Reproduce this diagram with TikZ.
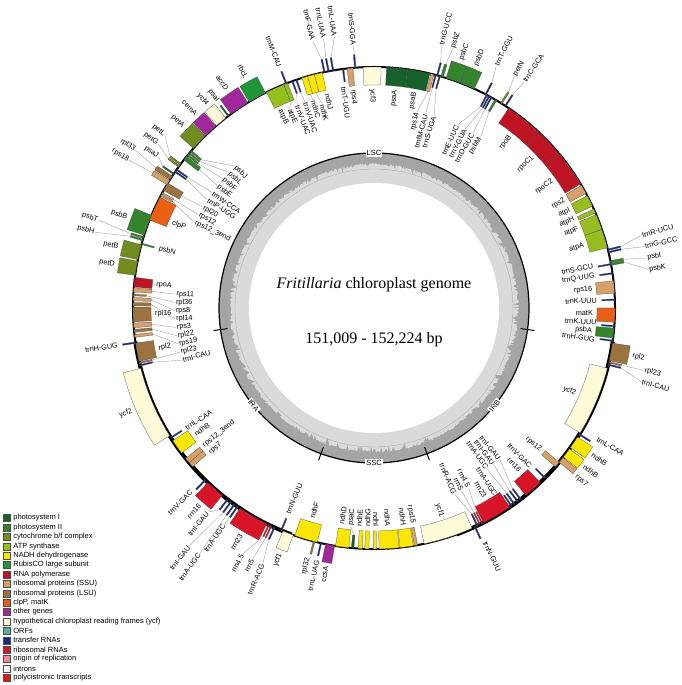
\documentclass[tikz,border=0pt]{standalone}
\usepackage{fontspec}
\setmainfont{Liberation Serif}
\setsansfont{Liberation Sans}
\usetikzlibrary{positioning}
\definecolor{psI}{RGB}{22,96,44}
\definecolor{psII}{RGB}{52,132,44}
\definecolor{cytbf}{RGB}{112,140,30}
\definecolor{atp}{RGB}{150,190,30}
\definecolor{ndh}{RGB}{250,230,0}
\definecolor{rubisco}{RGB}{30,150,55}
\definecolor{rnap}{RGB}{190,20,35}
\definecolor{ssu}{RGB}{215,160,105}
\definecolor{lsu}{RGB}{155,115,65}
\definecolor{clp}{RGB}{235,95,20}
\definecolor{other}{RGB}{160,40,155}
\definecolor{ycf}{RGB}{255,250,215}
\definecolor{orf}{RGB}{85,175,155}
\definecolor{trna}{RGB}{25,40,125}
\definecolor{rrna}{RGB}{215,20,40}
\definecolor{ori}{RGB}{240,140,140}
\definecolor{poly}{RGB}{230,20,20}
\definecolor{gcdark}{RGB}{165,165,165}
\definecolor{gclight}{RGB}{218,218,218}
\tikzset{glab/.style={font=\sffamily\fontsize{7.3}{8}\selectfont, inner sep=0.8pt}}
\tikzset{leader/.style={draw=black!45, line width=0.3pt}}
\tikzset{gene/.style={draw=black!70, line width=0.25pt}}
\tikzset{region/.style={font=\sffamily\fontsize{7.5}{8}\selectfont, fill=white, inner sep=1pt}}
\tikzset{swatch/.style={draw=black!70, line width=0.3pt, minimum size=7pt, inner sep=0pt}}
\tikzset{legtext/.style={font=\sffamily\fontsize{7.5}{8}\selectfont, inner sep=0pt}}

% start/end angle / side (1 outside, -1 inside) / colour / label / label angle / label offset
\def\genelist{88.3/92.6/-1/ycf/ycf3/90.4/21,
82/87/-1/psI/psaA/84.5/21,
76.6/82/-1/psI/psaB/79.3/21,
75.6/76.4/-1/ssu/rps14/77.6/40,
75/75.35/-1/trna/trnfM-CAU/75.1/40,
74/74.35/-1/trna/trnS-UGA/72.6/40,
74.6/74.95/1/trna/trnG-UCC/75.6/30,
73.3/73.9/1/psII/psbZ/73.1/30,
69/72.6/1/psII/psbC/70.6/21,
65.4/69/1/psII/psbD/67.2/21,
62.2/62.55/1/trna/trnT-GGU/63.2/30,
61.9/62.25/-1/trna/trnE-UUC/65.5/40,
61.3/61.65/-1/trna/trnY-GUA/63/40,
60.7/61.05/-1/trna/trnD-GUC/60.5/40,
59.4/59.9/-1/psII/psbM/58/40,
57.9/58.3/1/cytbf/petN/58.8/30,
56.8/57.15/1/trna/trnC-GCA/56.4/30,
47/56/-1/rnap/rpoB/51.5/21,
40/47/-1/rnap/rpoC1/43.5/21,
31/40/-1/rnap/rpoC2/35.5/21,
28.4/30.6/-1/ssu/rps2/29.5/21,
25/27.8/-1/atp/atpI/26.6/21,
23.2/24.2/-1/atp/atpH/24/21,
19/22.8/-1/atp/atpF/21.2/21,
14.5/19/-1/atp/atpA/16.6/21,
13.8/14.15/1/trna/trnR-UCU/15.2/36,
13.2/13.55/1/trna/trnG-GCC/12.8/36,
10.8/11.3/1/psII/psbI/10.4/36,
10.2/10.7/1/psII/psbK/8/36,
10.3/10.65/-1/trna/trnS-GCU/10.8/17,
8.1/8.45/-1/trna/trnQ-UUG/8.2/17,
3.5/6.5/-1/ssu/rps16/5/21,
1.8/2.15/-1/trna/trnK-UUU/1.9/17,
-3.4/0/-1/clp/matK/-1.4/21,
-4.5/-4.15/-1/trna/trnK-UUU/-3.8/17,
-7.2/-4.8/-1/psII/psbA/-6/21,
-8/-7.65/-1/trna/trnH-GUG/-8.2/17,
-12.6/-8.4/1/lsu/rpl2/-10.5/21,
-13.2/-12.85/1/lsu/rpl23/-13/36,
-13.8/-13.45/1/trna/trnI-CAU/-15.4/36,
-31.2/-14.5/-1/ycf/ycf2/-23/21,
-31.8/-31.45/1/trna/trnL-CAA/-30.4/17,
-35.4/-32.4/1/ndh/ndhB/-33.9/21,
-38.2/-35.8/1/ndh/ndhB/-37/21,
-39.8/-38.4/1/ssu/rps7/-39.8/21,
-41.2/-39.8/-1/ssu/rps12/-40.5/21,
-45/-44.65/-1/trna/trnV-GAC/-45.4/17,
-51/-46.4/-1/rrna/rrn16/-48.2/21,
-52.7/-52.35/-1/trna/trnI-GAU/-50.3/44,
-53.6/-53.25/-1/trna/trnI-GAU/-52.6/44,
-54.6/-54.25/-1/trna/trnA-UGC/-54.9/44,
-55.4/-55.05/-1/trna/trnA-UGC/-57/17,
-63/-55.7/-1/rrna/rrn23/-59.6/21,
-63.5/-63.2/-1/rrna/rrn4.5/-62.2/38,
-64.1/-63.8/-1/rrna/rrn5/-64.4/38,
-64.8/-64.45/-1/trna/trnR-ACG/-66.6/38,
-65.4/-65.05/1/trna/trnN-GUU/-64.6/17,
-78/-66/-1/ycf/ycf1/-72/21,
-80.4/-79.6/-1/ssu/rps15/-79.8/21,
-83.8/-80.6/-1/ndh/ndhH/-82.2/21,
-88.8/-84/-1/ndh/ndhA/-86.4/21,
-90.2/-89.4/-1/ndh/ndhI/-89.5/21,
-92.2/-91.2/-1/ndh/ndhG/-91.7/21,
-93.8/-92.8/-1/ndh/ndhE/-93.9/21,
-95.4/-94.8/-1/psI/psaC/-96.1/21,
-99.2/-96/-1/ndh/ndhD/-98.5/21,
-101.6/-99.4/1/other/ccsA/-100.5/21,
-102.9/-102.55/1/trna/trnL-UAG/-102.7/17,
-104.6/-104.2/1/lsu/rpl32/-104.8/17,
-109.2/-103.6/-1/ndh/ndhF/-106.4/21,
-112.2/-109.6/1/ycf/ycf1/-110.9/21,
247.2/247.55/-1/trna/trnN-GUU/247.3/17,
245.4/245.75/1/trna/trnR-ACG/246.5/38,
244.6/244.9/1/rrna/rrn5/244.2/38,
244/244.3/1/rrna/rrn4.5/241.9/38,
236.2/243.6/1/rrna/rrn23/239.6/21,
235.3/235.65/1/trna/trnA-UGC/235.3/22,
234.4/234.75/1/trna/trnA-UGC/234.6/60,
233.4/233.75/1/trna/trnI-GAU/232.2/60,
232.4/232.75/1/trna/trnI-GAU/230.9/22,
226.4/231/1/rrna/rrn16/228.5/21,
225.4/225.75/1/trna/trnV-GAC/225.1/17,
219.9/221.2/-1/ssu/rps7/221.5/21,
218.6/219.9/-1/ssu/rps12\_3end/219/21,
213.4/217/-1/ndh/ndhB/215.2/21,
212.4/212.75/-1/trna/trnL-CAA/212.6/17,
194.5/212/1/ycf/ycf2/203/21,
193.6/193.95/-1/trna/trnI-CAU/195.2/42,
193/193.35/-1/lsu/rpl23/192.8/42,
188.4/192.8/-1/lsu/rpl2/190.6/21,
188.1/188.45/1/trna/trnH-GUG/188.3/17,
186.3/187/-1/ssu/rps19/190.4/42,
185.1/185.8/-1/lsu/rpl22/188/42,
183.6/184.7/-1/ssu/rps3/185.6/42,
179.8/183.3/-1/lsu/rpl16/181.6/21,
178.7/179.5/-1/lsu/rpl14/183.2/42,
177.5/178.3/-1/ssu/rps8/180.8/42,
176.7/177.1/-1/lsu/rpl36/178.4/42,
175.2/176.2/-1/ssu/rps11/176/42,
172.7/175/-1/rnap/rpoA/173.8/21,
168.8/172.2/1/cytbf/petD/170.5/21,
164.8/168.4/1/cytbf/petB/166.6/21,
164.4/164.75/-1/psII/psbN/164.6/17,
163.4/163.8/1/psII/psbH/164.8/48,
162.8/163.2/1/psII/psbT/162.3/48,
157.4/162.4/1/psII/psbB/159.9/21,
152.6/158.6/-1/clp/clpP/157/21,
152/152.35/-1/ssu/rps12\_3end/154.5/42,
151.4/151.8/-1/ssu/rps12/152/42,
148.8/150.8/-1/lsu/rpl20/149.5/42,
148/149.2/1/ssu/rps18/148.9/45,
146.8/147.8/1/lsu/rpl33/146.5/45,
146/146.35/1/psI/psaJ/145/22,
145.4/145.75/-1/trna/trnP-UGG/147/42,
144.8/145.15/-1/trna/trnW-CCA/144.5/42,
143.8/144.2/1/cytbf/petG/142.8/30,
143.2/143.6/1/cytbf/petL/140.5/30,
141/142.1/-1/psII/psbE/142/42,
140.4/140.8/-1/psII/psbF/139.5/42,
139.8/140.2/-1/psII/psbL/137/42,
139.2/139.6/-1/psII/psbJ/134.5/42,
134.5/138.5/1/cytbf/petA/136.5/21,
131/134.3/1/other/cemA/132.6/21,
128/130.8/1/ycf/ycf4/129.4/21,
127/127.35/1/psI/psaI/127.1/17,
121.6/126.4/1/other/accD/124/21,
116.8/121.2/1/rubisco/rbcL/119/21,
112/116.5/-1/atp/atpB/115.4/21,
111/112/-1/atp/atpE/113.1/24,
111.2/111.55/1/trna/trnM-CAU/111.4/17,
109.6/109.95/-1/trna/trnV-UAC/110.8/24,
108.6/108.95/-1/trna/trnV-UAC/108.5/24,
106/107.4/-1/ndh/ndhC/106.3/24,
104.3/106/-1/ndh/ndhK/104.3/30,
102.4/104.3/-1/ndh/ndhJ/102.3/21,
101.7/102.05/1/trna/trnF-GAA/102.9/33,
100.7/101.05/1/trna/trnL-UAA/100.6/33,
99.6/99.95/1/trna/trnL-UAA/98.3/33,
97.2/97.55/-1/trna/trnT-UGU/97.9/17,
95/96.4/-1/ssu/rps4/95.5/21,
94.3/94.65/1/trna/trnS-GGA/94.5/22}

\begin{document}
\begin{tikzpicture}[x=1pt, y=1pt]
\useasboundingbox (0,0) rectangle (682,685);

\begin{scope}[shift={(374,377)}]
\coordinate (c) at (0,0);
% GC content
\fill[gcdark] (c) circle[radius=155pt];
\fill[gclight] plot[domain=0:360, samples=720, variable=\g] (\g:{143+2*rnd-7*rnd^5}) -- cycle;
\draw[black!35, line width=0.3pt] (c) circle[radius=139pt];
\fill[white] (c) circle[radius=125pt];
\draw[line width=1.2pt] (c) circle[radius=155pt];
\foreach \t in {188,250,290,352}
  \draw[line width=1pt] (\t:148pt) -- (\t:162pt);
\node[region] (lsc) at (90:155pt) {LSC};
\node[region, rotate=-51] (ira) at (219:155pt) {IRA};
\node[region] (ssc) at (270:155pt) {SSC};
\node[region, rotate=51] (irb) at (321:155pt) {IRB};

\node[font=\fontsize{16}{18}\selectfont] (title) at (0,23) {\textit{Fritillaria} chloroplast genome};
\node[font=\fontsize{16}{18}\selectfont] (size) at (0,-32) {151,009 - 152,224 bp};

% genome ring
\draw[line width=2pt] (c) circle[radius=241pt];
\draw[line width=4pt] (188:241pt) arc[start angle=188, end angle=250, radius=241pt];
\draw[line width=4pt] (290:241pt) arc[start angle=290, end angle=352, radius=241pt];

% genes
\foreach \ga/\gb/\gs/\gc/\gt/\gla/\glo [count=\gn] in \genelist {
  \pgfmathsetmacro\gh{(\gb-\ga)>0.6 ? 18 : 13}
  \pgfmathsetmacro\gro{241+\gs*\gh}
  \filldraw[gene, fill=\gc] (\ga:241pt) arc[start angle=\ga, end angle=\gb, radius=241pt]
    -- (\gb:\gro pt) arc[start angle=\gb, end angle=\ga, radius=\gro pt] -- cycle;
}
\foreach \ga/\gb/\gs/\gc/\gt/\gla/\glo [count=\gn] in \genelist {
  \pgfmathsetmacro\gh{(\gb-\ga)>0.6 ? 18 : 13}
  \pgfmathsetmacro\gro{241+\gs*\gh}
  \pgfmathsetmacro\gam{(\ga+\gb)/2}
  \pgfmathsetmacro\glr{241+\gs*\glo}
  \pgfmathsetmacro\grot{(cos(\gla)<0) ? (\gla+180) : \gla}
  \pgfmathsetmacro\gsg{\gs*cos(\gla)}
  \pgfmathsetmacro\gth{\gh+4}
  \ifdim\gsg pt>0pt \def\ganc{west}\else\def\ganc{east}\fi
  \node[glab, rotate=\grot, anchor=\ganc] (g\gn) at (\gla:\glr pt) {\gt};
  \ifdim\glo pt>\gth pt
    \coordinate (f\gn) at (\gam:\gro pt);
    \draw[leader] (f\gn) -- (g\gn.\ganc);
  \fi
}
\end{scope}

% legend
\foreach \c/\txt [count=\i] in {psI/photosystem I, psII/photosystem II,
  cytbf/{cytochrome b/f complex}, atp/ATP synthase, ndh/NADH dehydrogenase,
  rubisco/RubisCO large subunit, rnap/RNA polymerase, ssu/ribosomal proteins (SSU),
  lsu/ribosomal proteins (LSU), clp/{clpP, matK}, other/other genes,
  ycf/hypothetical chloroplast reading frames (ycf), orf/ORFs, trna/transfer RNAs,
  rrna/ribosomal RNAs, ori/origin of replication, white/introns,
  poly/polycistronic transcripts} {
  \node[swatch, fill=\c] (sw\i) at (6.5,{167-9.4*(\i-1)}) {};
  \node[legtext, right=3pt of sw\i] (leg\i) {\txt};
}
\end{tikzpicture}
\end{document}
